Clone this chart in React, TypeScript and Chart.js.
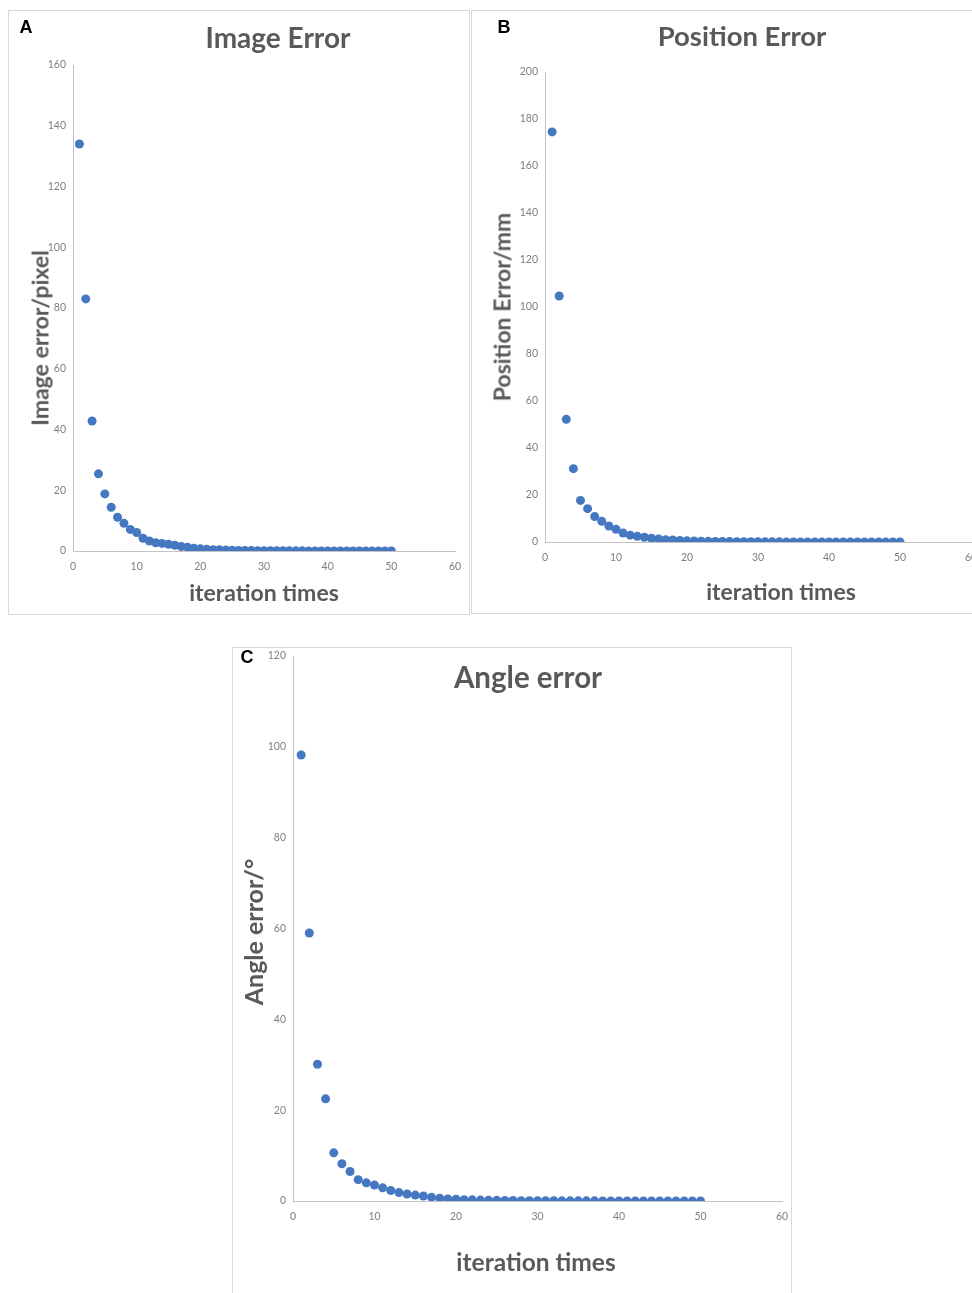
import React, { useEffect, useRef } from "react";
import { Chart, registerables } from "chart.js";

Chart.register(...registerables);

// ---------- data ----------
const iterations = [
  1, 2, 3, 4, 5, 6, 7, 8, 9, 10, 11, 12, 13, 14, 15, 16, 17, 18, 19, 20, 21, 22, 23, 24, 25,
  26, 27, 28, 29, 30, 31, 32, 33, 34, 35, 36, 37, 38, 39, 40, 41, 42, 43, 44, 45, 46, 47, 48, 49, 50,
];
const xTicks = [0, 10, 20, 30, 40, 50, 60];

const imageYTicks = [0, 20, 40, 60, 80, 100, 120, 140, 160];
const positionYTicks = [0, 20, 40, 60, 80, 100, 120, 140, 160, 180, 200];
const angleYTicks = [0, 20, 40, 60, 80, 100, 120];

const imageError = [
  134.0, 83.0, 42.8, 25.4, 18.8, 14.4, 11.1, 9.1, 7.1, 6.1,
  4.2, 3.3, 2.7, 2.5, 2.2, 1.9, 1.5, 1.2, 0.9, 0.7,
  0.55, 0.45, 0.38, 0.3, 0.25, 0.2, 0.17, 0.14, 0.12, 0.1,
  0.09, 0.08, 0.07, 0.06, 0.05, 0.05, 0.04, 0.04, 0.03, 0.03,
  0.03, 0.02, 0.02, 0.02, 0.02, 0.01, 0.01, 0.01, 0.01, 0.01,
];
const positionError = [
  174.5, 104.7, 52.2, 31.2, 17.7, 14.2, 10.8, 8.8, 6.8, 5.4,
  3.8, 2.9, 2.4, 2.0, 1.6, 1.3, 1.0, 0.85, 0.65, 0.5,
  0.42, 0.35, 0.29, 0.24, 0.2, 0.17, 0.14, 0.12, 0.1, 0.09,
  0.08, 0.07, 0.06, 0.05, 0.05, 0.04, 0.04, 0.03, 0.03, 0.03,
  0.02, 0.02, 0.02, 0.02, 0.01, 0.01, 0.01, 0.01, 0.01, 0.01,
];
const angleError = [
  98.2, 59.0, 30.1, 22.5, 10.6, 8.2, 6.5, 4.7, 4.0, 3.5,
  2.9, 2.3, 1.85, 1.55, 1.3, 1.1, 0.8, 0.6, 0.45, 0.4,
  0.3, 0.25, 0.2, 0.17, 0.14, 0.12, 0.1, 0.08, 0.07, 0.06,
  0.05, 0.05, 0.04, 0.04, 0.03, 0.03, 0.03, 0.02, 0.02, 0.02,
  0.02, 0.01, 0.01, 0.01, 0.01, 0.01, 0.01, 0.01, 0.01, 0.01,
];

// ---------- styles ----------
const POINT_COLOR = "#4677c1";
const AXIS_COLOR = "#c3c3c3";
const TICK_COLOR = "#7f7f7f";
const TEXT_COLOR = "#595959";
const FONT = "Lato, 'Open Sans', sans-serif";

type Label = { text: string; x: number; y: number; size: number; rotate?: boolean; color?: string; family?: string };

type PanelSpec = {
  canvas: { left: number; top: number; width: number; height: number };
  plot: { left: number; right: number; top: number; bottom: number }; // page coords
  box: { left: number; top: number; width: number; height: number };
  values: number[];
  yTicks: number[];
  labels: Label[];
};

function ScatterPanel({ spec }: { spec: PanelSpec }) {
  const ref = useRef<HTMLCanvasElement | null>(null);
  useEffect(() => {
    if (!ref.current) return;
    const c = spec.canvas;
    const plotL = spec.plot.left - c.left;
    const plotR = spec.plot.right - c.left;
    const plotT = spec.plot.top - c.top;
    const plotB = spec.plot.bottom - c.top;
    const xAxisH = 20;
    const points = iterations.map((it, i) => ({ x: it, y: spec.values[i] }));
    const chart = new Chart(ref.current, {
      type: "scatter",
      data: {
        datasets: [
          {
            data: points,
            backgroundColor: POINT_COLOR,
            borderColor: POINT_COLOR,
            pointRadius: 4.5,
            pointBorderWidth: 0,
          },
        ],
      },
      options: {
        responsive: false,
        animation: false,
        devicePixelRatio: 1,
        layout: {
          padding: {
            left: 0,
            right: c.width - plotR,
            top: plotT,
            bottom: c.height - plotB - xAxisH,
          },
        },
        plugins: { legend: { display: false }, tooltip: { enabled: false }, title: { display: false } },
        scales: {
          x: {
            type: "linear",
            min: xTicks[0],
            max: xTicks[xTicks.length - 1],
            grid: { display: false, drawTicks: false },
            border: { display: true, color: AXIS_COLOR, width: 1 },
            ticks: {
              stepSize: xTicks[1] - xTicks[0],
              color: TICK_COLOR,
              font: { family: FONT, size: 10.5 },
              padding: 9,
              maxRotation: 0,
              autoSkip: false,
            },
            afterFit: (s: any) => {
              s.height = xAxisH;
              s.paddingLeft = 0;
              s.paddingRight = 0;
            },
          },
          y: {
            type: "linear",
            min: spec.yTicks[0],
            max: spec.yTicks[spec.yTicks.length - 1],
            grid: { display: false, drawTicks: false },
            border: { display: true, color: AXIS_COLOR, width: 1 },
            ticks: {
              stepSize: spec.yTicks[1] - spec.yTicks[0],
              color: TICK_COLOR,
              font: { family: FONT, size: 10.5 },
              padding: 7,
              autoSkip: false,
            },
            afterFit: (s: any) => {
              s.width = plotL;
              s.paddingTop = 0;
              s.paddingBottom = 0;
            },
          },
        },
      },
    } as any);
    return () => chart.destroy();
  }, [spec]);

  const c = spec.canvas;
  return (
    <>
      <div
        style={{
          position: "absolute",
          left: spec.box.left,
          top: spec.box.top,
          width: spec.box.width,
          height: spec.box.height,
          border: "1px solid #d9d9d9",
          boxSizing: "border-box",
          background: "#fff",
        }}
      />
      <canvas
        ref={ref}
        width={c.width}
        height={c.height}
        style={{ position: "absolute", left: c.left, top: c.top, width: c.width, height: c.height }}
      />
      {spec.labels.map((l, i) => (
        <div
          key={i}
          style={{
            position: "absolute",
            left: l.x,
            top: l.y,
            transform: `translate(-50%, -50%)${l.rotate ? " rotate(-90deg)" : ""}`,
            fontFamily: l.family || FONT,
            fontWeight: 700,
            fontSize: l.size,
            color: l.color || TEXT_COLOR,
            whiteSpace: "nowrap",
            lineHeight: 1,
          }}
        >
          {l.text}
        </div>
      ))}
    </>
  );
}

const LETTER_FONT = "'Liberation Sans', Arial, sans-serif";

const panels: PanelSpec[] = [
  {
    canvas: { left: 8, top: 10, width: 461, height: 604 },
    plot: { left: 73, right: 455, top: 65, bottom: 551 },
    box: { left: 8, top: 10, width: 462, height: 605 },
    values: imageError,
    yTicks: imageYTicks,
    labels: [
      { text: "A", x: 26, y: 27, size: 18, color: "#000", family: LETTER_FONT },
      { text: "Image Error", x: 278, y: 37, size: 28 },
      { text: "iteration times", x: 264, y: 592, size: 23 },
      { text: "Image error/pixel", x: 40, y: 338, size: 23, rotate: true },
    ],
  },
  {
    canvas: { left: 471, top: 10, width: 530, height: 603 },
    plot: { left: 545, right: 971, top: 72, bottom: 542 },
    box: { left: 471, top: 10, width: 540, height: 604 },
    values: positionError,
    yTicks: positionYTicks,
    labels: [
      { text: "B", x: 504, y: 27, size: 18, color: "#000", family: LETTER_FONT },
      { text: "Position Error", x: 742, y: 36, size: 27.5 },
      { text: "iteration times", x: 781, y: 591, size: 23 },
      { text: "Position Error/mm", x: 502, y: 307, size: 23, rotate: true },
    ],
  },
  {
    canvas: { left: 232, top: 647, width: 559, height: 646 },
    plot: { left: 293, right: 782, top: 656, bottom: 1201 },
    box: { left: 232, top: 647, width: 560, height: 700 },
    values: angleError,
    yTicks: angleYTicks,
    labels: [
      { text: "C", x: 247, y: 657, size: 18, color: "#000", family: LETTER_FONT },
      { text: "Angle error", x: 528, y: 677, size: 29.5 },
      { text: "iteration times", x: 536, y: 1262, size: 24.5 },
      { text: "Angle error/°", x: 253, y: 932, size: 25, rotate: true },
    ],
  },
];

export default function App() {
  return (
    <div
      style={{
        position: "absolute",
        left: 0,
        top: 0,
        width: 972,
        height: 1293,
        overflow: "hidden",
        background: "#fff",
      }}
    >
      {panels.map((p, i) => (
        <ScatterPanel key={i} spec={p} />
      ))}
    </div>
  );
}
